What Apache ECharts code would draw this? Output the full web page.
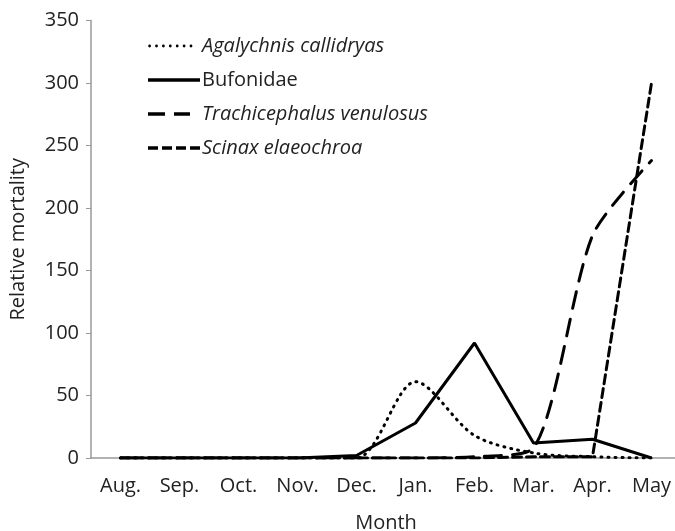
<!DOCTYPE html>
<html>
<head>
<meta charset="utf-8">
<script src="https://cdn.jsdelivr.net/npm/echarts@6/dist/echarts.min.js"></script>
<style>html,body{margin:0;padding:0;background:#fff}#c{width:675px;height:531px}</style>
</head>
<body>
<div id="c"></div>
<script>
const months = ['Aug.', 'Sep.', 'Oct.', 'Nov.', 'Dec.', 'Jan.', 'Feb.', 'Mar.', 'Apr.', 'May'];
const agalychnis = [0, 0, 0, 0, 0, 61, 18, 4, 1, 0];
const bufonidae = [0, 0, 0, 0, 2, 28, 92, 12, 15, 0];
const trachicephalus = [0, 0, 0, 0, 0, 0, 1, 8, 178, 238];
const scinax = [0, 0, 0, 0, 0, 0, 0, 1, 1, 300];
const yTicks = [0, 50, 100, 150, 200, 250, 300, 350];

const FONT = '"Open Sans", "Noto Sans", sans-serif';

// legend icons (52 x 4 units)
function dot(cx) { return 'M' + (cx - 1.4) + ',2a1.4,1.4 0 1,0 2.8,0a1.4,1.4 0 1,0 -2.8,0'; }
let dotPath = 'path://M0,0';
for (let k = 0; k < 7; k++) dotPath += dot(1.6 + k * 6.9);
dotPath += 'M52,4';
const solidPath = 'path://M0,0.2h52v3.6h-52z';
const longDashPath = 'path://M0,0M0,0.2h17v3.6h-17zM26,0.2h16v3.6h-16zM52,4';
const shortDashPath = 'path://M0,0.2h10v3.6h-10zM14,0.2h10v3.6h-10zM28,0.2h10v3.6h-10zM42,0.2h10v3.6h-10z';

const chart = echarts.init(document.getElementById('c'));
const mk = (name, data, type, smooth) => ({
  name, type: 'line', data, smooth, symbol: 'none',
  lineStyle: { color: '#000', width: 3, type, cap: type === 'solid' ? 'butt' : 'round' },
  itemStyle: { color: '#000' }
});
chart.setOption({
  animation: false,
  backgroundColor: '#fff',
  grid: { left: 91, top: 20.5, bottom: 73, right: -6, outerBoundsMode: 'none', containLabel: false },
  legend: {
    orient: 'vertical', left: 143, top: 31, itemWidth: 52, itemHeight: 4, itemGap: 14,
    data: [
      { name: 'Agalychnis callidryas', icon: dotPath },
      { name: 'Bufonidae', icon: solidPath },
      { name: 'Trachicephalus venulosus', icon: longDashPath },
      { name: 'Scinax elaeochroa', icon: shortDashPath }
    ],
    itemStyle: { color: '#000', borderWidth: 0 },
    formatter: n => n === 'Bufonidae' ? '{n|' + n + '}' : '{i|' + n + '}',
    textStyle: {
      padding: [0, 0, 0, -3],
      rich: {
        n: { fontFamily: FONT, fontSize: 20, lineHeight: 20, color: '#222' },
        i: { fontFamily: FONT, fontSize: 20, lineHeight: 20, color: '#222', fontStyle: 'italic' }
      }
    }
  },
  xAxis: {
    type: 'category', data: months, boundaryGap: true,
    name: 'Month', nameLocation: 'middle', nameGap: 55,
    nameTextStyle: { fontFamily: FONT, fontSize: 20, color: '#222' },
    axisLine: { lineStyle: { color: '#999', width: 1.5 } },
    axisTick: { length: 6, lineStyle: { color: '#999' } },
    axisLabel: { fontFamily: FONT, fontSize: 20, color: '#222', margin: 18 }
  },
  yAxis: {
    type: 'value', min: yTicks[0], max: yTicks[yTicks.length - 1], interval: 50,
    name: 'Relative mortality', nameLocation: 'middle', nameGap: 63, nameRotate: 90,
    nameTextStyle: { fontFamily: FONT, fontSize: 20, color: '#222' },
    axisLine: { show: true, lineStyle: { color: '#999', width: 1.5 } },
    axisTick: { show: true, length: 5, lineStyle: { color: '#999' } },
    splitLine: { show: false },
    axisLabel: { fontFamily: FONT, fontSize: 20, color: '#222', margin: 12 }
  },
  series: [
    mk('Agalychnis callidryas', agalychnis, [1, 6], 0.3),
    mk('Bufonidae', bufonidae, 'solid', false),
    mk('Trachicephalus venulosus', trachicephalus, [17, 11], 0.25),
    mk('Scinax elaeochroa', scinax, [9, 5], false)
  ]
});
</script>
</body>
</html>
